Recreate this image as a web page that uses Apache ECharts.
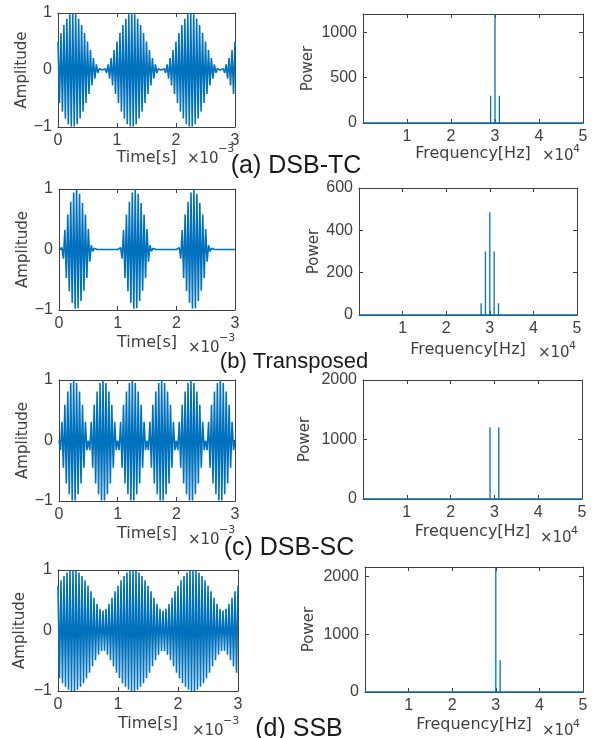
<!DOCTYPE html>
<html>
<head>
<meta charset="utf-8">
<script src="https://cdn.jsdelivr.net/npm/echarts@6/dist/echarts.min.js"></script>
<style>
  html, body { margin: 0; padding: 0; background: #fff; }
  #chart { width: 592px; height: 738px; }
</style>
</head>
<body>
<div id="chart"></div>
<script>
// time axis is in ms (shown as x10^-3 s), one sample every 0.025 ms
const timeStep = 0.025

// waveform peaks (carrier peaks alternate sign)
const waveDsbTc = [
  0.50, -0.58, 0.65, -0.73, 0.79, -0.85, 0.90, -0.95, 0.98, -0.99, 1.00, -0.99, 0.98, -0.95, 0.90, -0.85, 0.79, -0.73, 0.65, -0.58,
  0.50, -0.42, 0.35, -0.27, 0.21, -0.15, 0.10, -0.05, 0.02, -0.01, 0.00, -0.01, 0.02, -0.05, 0.10, -0.15, 0.21, -0.27, 0.35, -0.42,
  0.50, -0.58, 0.65, -0.73, 0.79, -0.85, 0.90, -0.95, 0.98, -0.99, 1.00, -0.99, 0.98, -0.95, 0.90, -0.85, 0.79, -0.73, 0.65, -0.58,
  0.50, -0.42, 0.35, -0.27, 0.21, -0.15, 0.10, -0.05, 0.02, -0.01, 0.00, -0.01, 0.02, -0.05, 0.10, -0.15, 0.21, -0.27, 0.35, -0.42,
  0.50, -0.58, 0.65, -0.73, 0.79, -0.85, 0.90, -0.95, 0.98, -0.99, 1.00, -0.99, 0.98, -0.95, 0.90, -0.85, 0.79, -0.73, 0.65, -0.58,
  0.50, -0.42, 0.35, -0.27, 0.21, -0.15, 0.10, -0.05, 0.02, -0.01, 0.00, -0.01, 0.02, -0.05, 0.10, -0.15, 0.21, -0.27, 0.35, -0.42,
  0.50
]
const waveTransposed = [
  0, 0, 0.03, -0.15, 0.32, -0.47, 0.58, -0.69, 0.79, -0.88, 0.94, -0.98, 1.00, -0.97, 0.92, -0.85, 0.77, -0.68, 0.58, -0.47,
  0.34, -0.20, 0.07, -0.03, 0.02, 0, 0, 0, 0, 0, 0, 0, 0, 0, 0, 0, 0, 0, 0, 0,
  0, 0, 0.03, -0.15, 0.32, -0.47, 0.58, -0.69, 0.79, -0.88, 0.94, -0.98, 1.00, -0.97, 0.92, -0.85, 0.77, -0.68, 0.58, -0.47,
  0.34, -0.20, 0.07, -0.03, 0.02, 0, 0, 0, 0, 0, 0, 0, 0, 0, 0, 0, 0, 0, 0, 0,
  0, 0, 0.03, -0.15, 0.32, -0.47, 0.58, -0.69, 0.79, -0.88, 0.94, -0.98, 1.00, -0.97, 0.92, -0.85, 0.77, -0.68, 0.58, -0.47,
  0.34, -0.20, 0.07, -0.03, 0.02, 0, 0, 0, 0, 0, 0, 0, 0, 0, 0, 0, 0, 0, 0, 0,
  0
]
const waveDsbSc = [
  0, -0.16, 0.31, -0.45, 0.59, -0.71, 0.81, -0.89, 0.95, -0.99, 1.00, -0.99, 0.95, -0.89, 0.81, -0.71, 0.59, -0.45, 0.31, -0.16,
  0, -0.16, 0.31, -0.45, 0.59, -0.71, 0.81, -0.89, 0.95, -0.99, 1.00, -0.99, 0.95, -0.89, 0.81, -0.71, 0.59, -0.45, 0.31, -0.16,
  0, -0.16, 0.31, -0.45, 0.59, -0.71, 0.81, -0.89, 0.95, -0.99, 1.00, -0.99, 0.95, -0.89, 0.81, -0.71, 0.59, -0.45, 0.31, -0.16,
  0, -0.16, 0.31, -0.45, 0.59, -0.71, 0.81, -0.89, 0.95, -0.99, 1.00, -0.99, 0.95, -0.89, 0.81, -0.71, 0.59, -0.45, 0.31, -0.16,
  0, -0.16, 0.31, -0.45, 0.59, -0.71, 0.81, -0.89, 0.95, -0.99, 1.00, -0.99, 0.95, -0.89, 0.81, -0.71, 0.59, -0.45, 0.31, -0.16,
  0, -0.16, 0.31, -0.45, 0.59, -0.71, 0.81, -0.89, 0.95, -0.99, 1.00, -0.99, 0.95, -0.89, 0.81, -0.71, 0.59, -0.45, 0.31, -0.16,
  0
]
const waveSsb = [
  0.74, -0.79, 0.83, -0.87, 0.90, -0.93, 0.96, -0.98, 0.99, -1.00, 1.00, -1.00, 0.99, -0.98, 0.96, -0.93, 0.90, -0.87, 0.83, -0.79,
  0.74, -0.70, 0.65, -0.59, 0.54, -0.49, 0.44, -0.40, 0.36, -0.34, 0.33, -0.34, 0.36, -0.40, 0.44, -0.49, 0.54, -0.59, 0.65, -0.70,
  0.74, -0.79, 0.83, -0.87, 0.90, -0.93, 0.96, -0.98, 0.99, -1.00, 1.00, -1.00, 0.99, -0.98, 0.96, -0.93, 0.90, -0.87, 0.83, -0.79,
  0.74, -0.70, 0.65, -0.59, 0.54, -0.49, 0.44, -0.40, 0.36, -0.34, 0.33, -0.34, 0.36, -0.40, 0.44, -0.49, 0.54, -0.59, 0.65, -0.70,
  0.74, -0.79, 0.83, -0.87, 0.90, -0.93, 0.96, -0.98, 0.99, -1.00, 1.00, -1.00, 0.99, -0.98, 0.96, -0.93, 0.90, -0.87, 0.83, -0.79,
  0.74, -0.70, 0.65, -0.59, 0.54, -0.49, 0.44, -0.40, 0.36, -0.34, 0.33, -0.34, 0.36, -0.40, 0.44, -0.49, 0.54, -0.59, 0.65, -0.70,
  0.74
]

// spectrum peaks (Hz, power)
const freqDsbTc = [29000, 30000, 31000]
const powDsbTc = [300, 1200, 300]
const freqTransposed = [28000, 29000, 30000, 31000, 32000]
const powTransposed = [55, 300, 485, 300, 55]
const freqDsbSc = [29000, 31000]
const powDsbSc = [1200, 1200]
const freqSsb = [30000, 31000]
const powSsb = [2160, 550]

const powMax = [1200, 600, 2000, 2160]
const powStep = [500, 200, 1000, 1000]
const captions = ['(a) DSB-TC', '(b) Transposed', '(c) DSB-SC', '(d) SSB']

const blue = '#0072BD'
const axisColor = '#404040'
const tickFont = 'Liberation Sans, Arial, sans-serif'
const nameFont = 'DejaVu Sans, sans-serif'

const grids = []
const xAxes = []
const yAxes = []
const series = []

function fmtMinus(v) {
  return v < 0 ? '\u2212' + (-v) : String(v)
}

function addPanel(rect, xo, yo, data, lw, xName, xGap, yName, yGap) {
  const gi = grids.length
  grids.push({ left: rect[0], top: rect[1], width: rect[2], height: rect[3] })
  const common = {
    gridIndex: gi,
    type: 'value',
    splitLine: { show: false },
    axisLine: { show: true, onZero: false, lineStyle: { color: axisColor, width: 1 } },
    axisTick: { show: true, inside: true, length: 4, lineStyle: { color: axisColor } }
  }
  const lbl = { color: axisColor, fontFamily: tickFont, fontSize: 16, margin: 6 }
  xAxes.push(Object.assign({}, common, xo, {
    position: 'bottom',
    axisLabel: Object.assign({}, lbl, { formatter: xo.fmt }),
    name: xName, nameLocation: 'middle', nameGap: xGap,
    nameTextStyle: { color: axisColor, fontFamily: nameFont, fontSize: 16 }
  }))
  xAxes.push(Object.assign({}, common, xo, { position: 'top', axisLabel: { show: false } }))
  yAxes.push(Object.assign({}, common, yo, {
    position: 'left',
    axisLabel: Object.assign({}, lbl, { formatter: yo.fmt }),
    name: yName, nameLocation: 'middle', nameGap: yGap,
    nameTextStyle: { color: axisColor, fontFamily: nameFont, fontSize: 15 }
  }))
  yAxes.push(Object.assign({}, common, yo, { position: 'right', axisLabel: { show: false } }))
  series.push({
    type: 'line',
    xAxisIndex: 2 * gi,
    yAxisIndex: 2 * gi,
    data: data,
    showSymbol: false,
    lineStyle: { color: blue, width: lw },
    itemStyle: { color: blue },
    animation: false
  })
}

function wavePoints(vals) {
  return vals.map((v, i) => [i * timeStep, v])
}

function spikePoints(freqs, pows) {
  const pts = [[0, 0]]
  freqs.forEach((f, i) => {
    pts.push([f, 0], [f, pows[i]], [f, 0])
  })
  pts.push([50000, 0])
  return pts
}

const waves = [waveDsbTc, waveTransposed, waveDsbSc, waveSsb]
const specs = [
  [freqDsbTc, powDsbTc],
  [freqTransposed, powTransposed],
  [freqDsbSc, powDsbSc],
  [freqSsb, powSsb]
]

// plot rectangles [left, top, width, height]
const leftRects = [[58, 13, 177, 114], [59, 189, 176, 121], [59, 380, 176, 121], [58, 570, 180, 121]]
const rightRects = [[363, 14, 220, 109], [359, 188, 218, 127], [363, 380, 219, 119], [365, 567, 218, 125]]
const timeGaps = [22, 25, 25, 25]
const freqGaps = [22, 27, 25, 25]
const ampGaps = [27, 28, 28, 30]
const powGaps = [47, 37, 50, 48]

for (let r = 0; r < 4; r++) {
  addPanel(leftRects[r],
    { min: 0, max: 3, interval: 1, fmt: v => String(v) },
    { min: -1, max: 1, interval: 1, fmt: fmtMinus },
    wavePoints(waves[r]), 1.6, 'Time[s]', timeGaps[r], 'Amplitude', ampGaps[r])
  const step = powStep[r]
  addPanel(rightRects[r],
    { min: 0, max: 50000, interval: 10000, fmt: v => (v === 0 ? '' : String(v / 10000)) },
    { min: 0, max: powMax[r], interval: step, fmt: v => (v % step === 0 ? String(v) : '') },
    spikePoints(specs[r][0], specs[r][1]), 1.3, 'Frequency[Hz]', freqGaps[r], 'Power', powGaps[r])
}

// x10 exponent labels and captions
const expo = [
  // [x, y, exponent] for time and frequency axes
  [187, 152, '\u22123', 542, 149, '4'],
  [188, 341, '\u22123', 538, 346, '4'],
  [188, 533, '\u22123', 540, 531, '4'],
  [192, 724, '\u22123', 542, 724, '4']
]
const capPos = [[296, 166, 25], [294, 362, 22], [289, 548, 25], [299, 729, 25]]

const graphic = []
expo.forEach(e => {
  graphic.push(
    { type: 'text', x: e[0], y: e[1], style: { text: '\u00d710', fill: axisColor, font: '15px ' + nameFont } },
    { type: 'text', x: e[0] + 31, y: e[1] - 8, style: { text: e[2], fill: axisColor, font: '11px ' + nameFont } },
    { type: 'text', x: e[3], y: e[4], style: { text: '\u00d710', fill: axisColor, font: '15px ' + nameFont } },
    { type: 'text', x: e[3] + 31, y: e[4] - 5, style: { text: e[5], fill: axisColor, font: '11px ' + nameFont } }
  )
})
captions.forEach((c, i) => {
  const p = capPos[i]
  graphic.push({
    type: 'text', x: p[0], y: p[1], z: 10,
    style: { text: c, fill: '#1a1a1a', font: p[2] + 'px Liberation Sans, Arial, sans-serif', align: 'center', verticalAlign: 'middle' }
  })
})

const chart = echarts.init(document.getElementById('chart'))
chart.setOption({
  animation: false,
  backgroundColor: '#fff',
  grid: grids,
  xAxis: xAxes,
  yAxis: yAxes,
  series: series,
  graphic: graphic
})
</script>
</body>
</html>
